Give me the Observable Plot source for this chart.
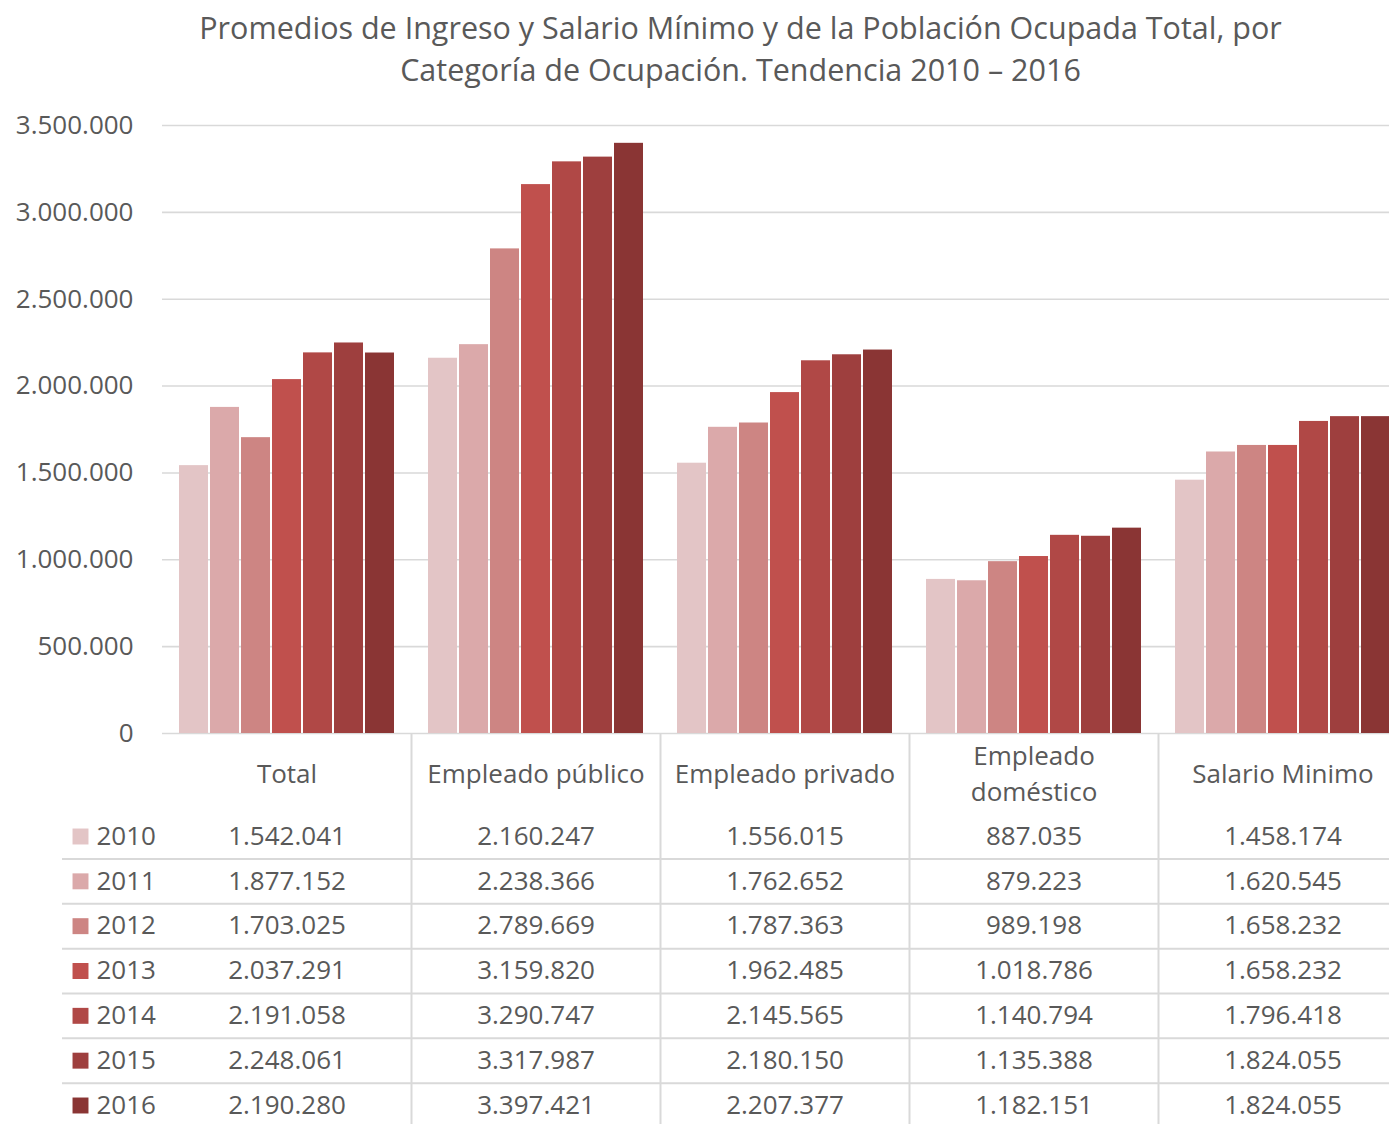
<!DOCTYPE html>
<html>
<head>
<meta charset="utf-8">
<script src="https://cdn.jsdelivr.net/npm/d3@7"></script>
<script src="https://cdn.jsdelivr.net/npm/@observablehq/plot@0.6"></script>
<style>
  html, body { margin: 0; padding: 0; background: #fff; overflow: hidden; }
  #wrap { width: 1389px; height: 1124px; position: relative; }
  #title { box-sizing: border-box; height: 95px; width: 1297px; margin-left: 92px; padding-top: 6px;
           text-align: center; font-family: "Open Sans", sans-serif; font-size: 30.5px; line-height: 42px; color: #595959; white-space: nowrap; }
  #table { position: absolute; left: 0; top: 734px; }
  svg { display: block; }
</style>
</head>
<body>
<div id="wrap">
  <div id="title">Promedios de Ingreso y Salario Mínimo y de la Población Ocupada Total, por<br>Categoría de Ocupación. Tendencia 2010 – 2016</div>
  <div id="chart"></div>
  <div id="table"></div>
</div>
<script>
const categories = ["Total", "Empleado público", "Empleado privado", "Empleado doméstico", "Salario Minimo"];
const headerLabels = ["Total", "Empleado público", "Empleado privado", "Empleado\ndoméstico", "Salario Minimo"];
const years = [2010, 2011, 2012, 2013, 2014, 2015, 2016];
const colors = ["#e3c5c6", "#dba9aa", "#cd8583", "#c0504d", "#b04846", "#9e3f3e", "#8a3534"];

const totalValues     = [1542041, 1877152, 1703025, 2037291, 2191058, 2248061, 2190280];
const publicoValues   = [2160247, 2238366, 2789669, 3159820, 3290747, 3317987, 3397421];
const privadoValues   = [1556015, 1762652, 1787363, 1962485, 2145565, 2180150, 2207377];
const domesticoValues = [887035, 879223, 989198, 1018786, 1140794, 1135388, 1182151];
const salarioValues   = [1458174, 1620545, 1658232, 1658232, 1796418, 1824055, 1824055];

const yTicks = [0, 500000, 1000000, 1500000, 2000000, 2500000, 3000000, 3500000];

const seriesByCategory = [totalValues, publicoValues, privadoValues, domesticoValues, salarioValues];
const data = [];
categories.forEach((cat, i) => years.forEach((year, j) => data.push({cat, year, value: seriesByCategory[i][j]})));

const locale = d3.formatLocale({decimal: ",", thousands: ".", grouping: [3], currency: ["$", ""]});
const fmt = locale.format(",d");

const textColor = "#595959";
const lineColor = "#d9d9d9";

const chart = Plot.plot({
  width: 1389,
  height: 670,
  marginTop: 30,
  marginBottom: 32,
  marginLeft: 162,
  marginRight: 0,
  style: {fontFamily: "Open Sans, sans-serif", fontSize: "26px", color: textColor, background: "#fff"},
  fx: {domain: categories, range: [162, 1407], padding: 0, axis: null, label: null},
  x: {domain: years, paddingInner: 0.065, paddingOuter: 0.43, axis: null},
  y: {domain: [0, 3500000], ticks: yTicks, tickFormat: fmt, tickSize: 0, tickPadding: 29, label: null},
  color: {type: "ordinal", domain: years, range: colors},
  marks: [
    Plot.ruleY(yTicks, {stroke: lineColor, strokeWidth: 1.6}),
    Plot.barY(data, {fx: "cat", x: "year", y: "value", fill: "year"})
  ]
});
document.getElementById("chart").appendChild(chart);

const table = Plot.plot({
  width: 1389,
  height: 390,
  marginTop: 0,
  marginBottom: 0,
  marginLeft: 62,
  marginRight: 0,
  style: {fontFamily: "Open Sans, sans-serif", fontSize: "26px", color: textColor, background: "transparent"},
  x: {type: "band", domain: categories, range: [162, 1407], padding: 0, round: false, axis: null},
  y: {type: "point", domain: years, range: [102, 371], padding: 0, round: false, axis: null},
  color: {type: "ordinal", domain: years, range: colors},
  marks: [
    Plot.ruleY(years.slice(0, -1), {y: d => d, dy: 22.5, stroke: lineColor, strokeWidth: 2}),
    Plot.ruleX(categories.slice(1), {x: d => d, dx: -124.5, stroke: lineColor, strokeWidth: 2}),
    Plot.text(categories, {x: d => d, text: (d, i) => headerLabels[i], frameAnchor: "top", dy: 37, lineAnchor: "middle", lineHeight: 1.4, fill: textColor}),
    Plot.dot(years, {y: d => d, frameAnchor: "left", dx: 18, symbol: "square", r: 9, fill: d => d, stroke: null}),
    Plot.text(years, {y: d => d, text: d => String(d), frameAnchor: "left", dx: 34, textAnchor: "start", fill: textColor}),
    Plot.text(data, {x: "cat", y: "year", text: d => fmt(d.value), fill: textColor})
  ]
});
document.getElementById("table").appendChild(table);
</script>
</body>
</html>
